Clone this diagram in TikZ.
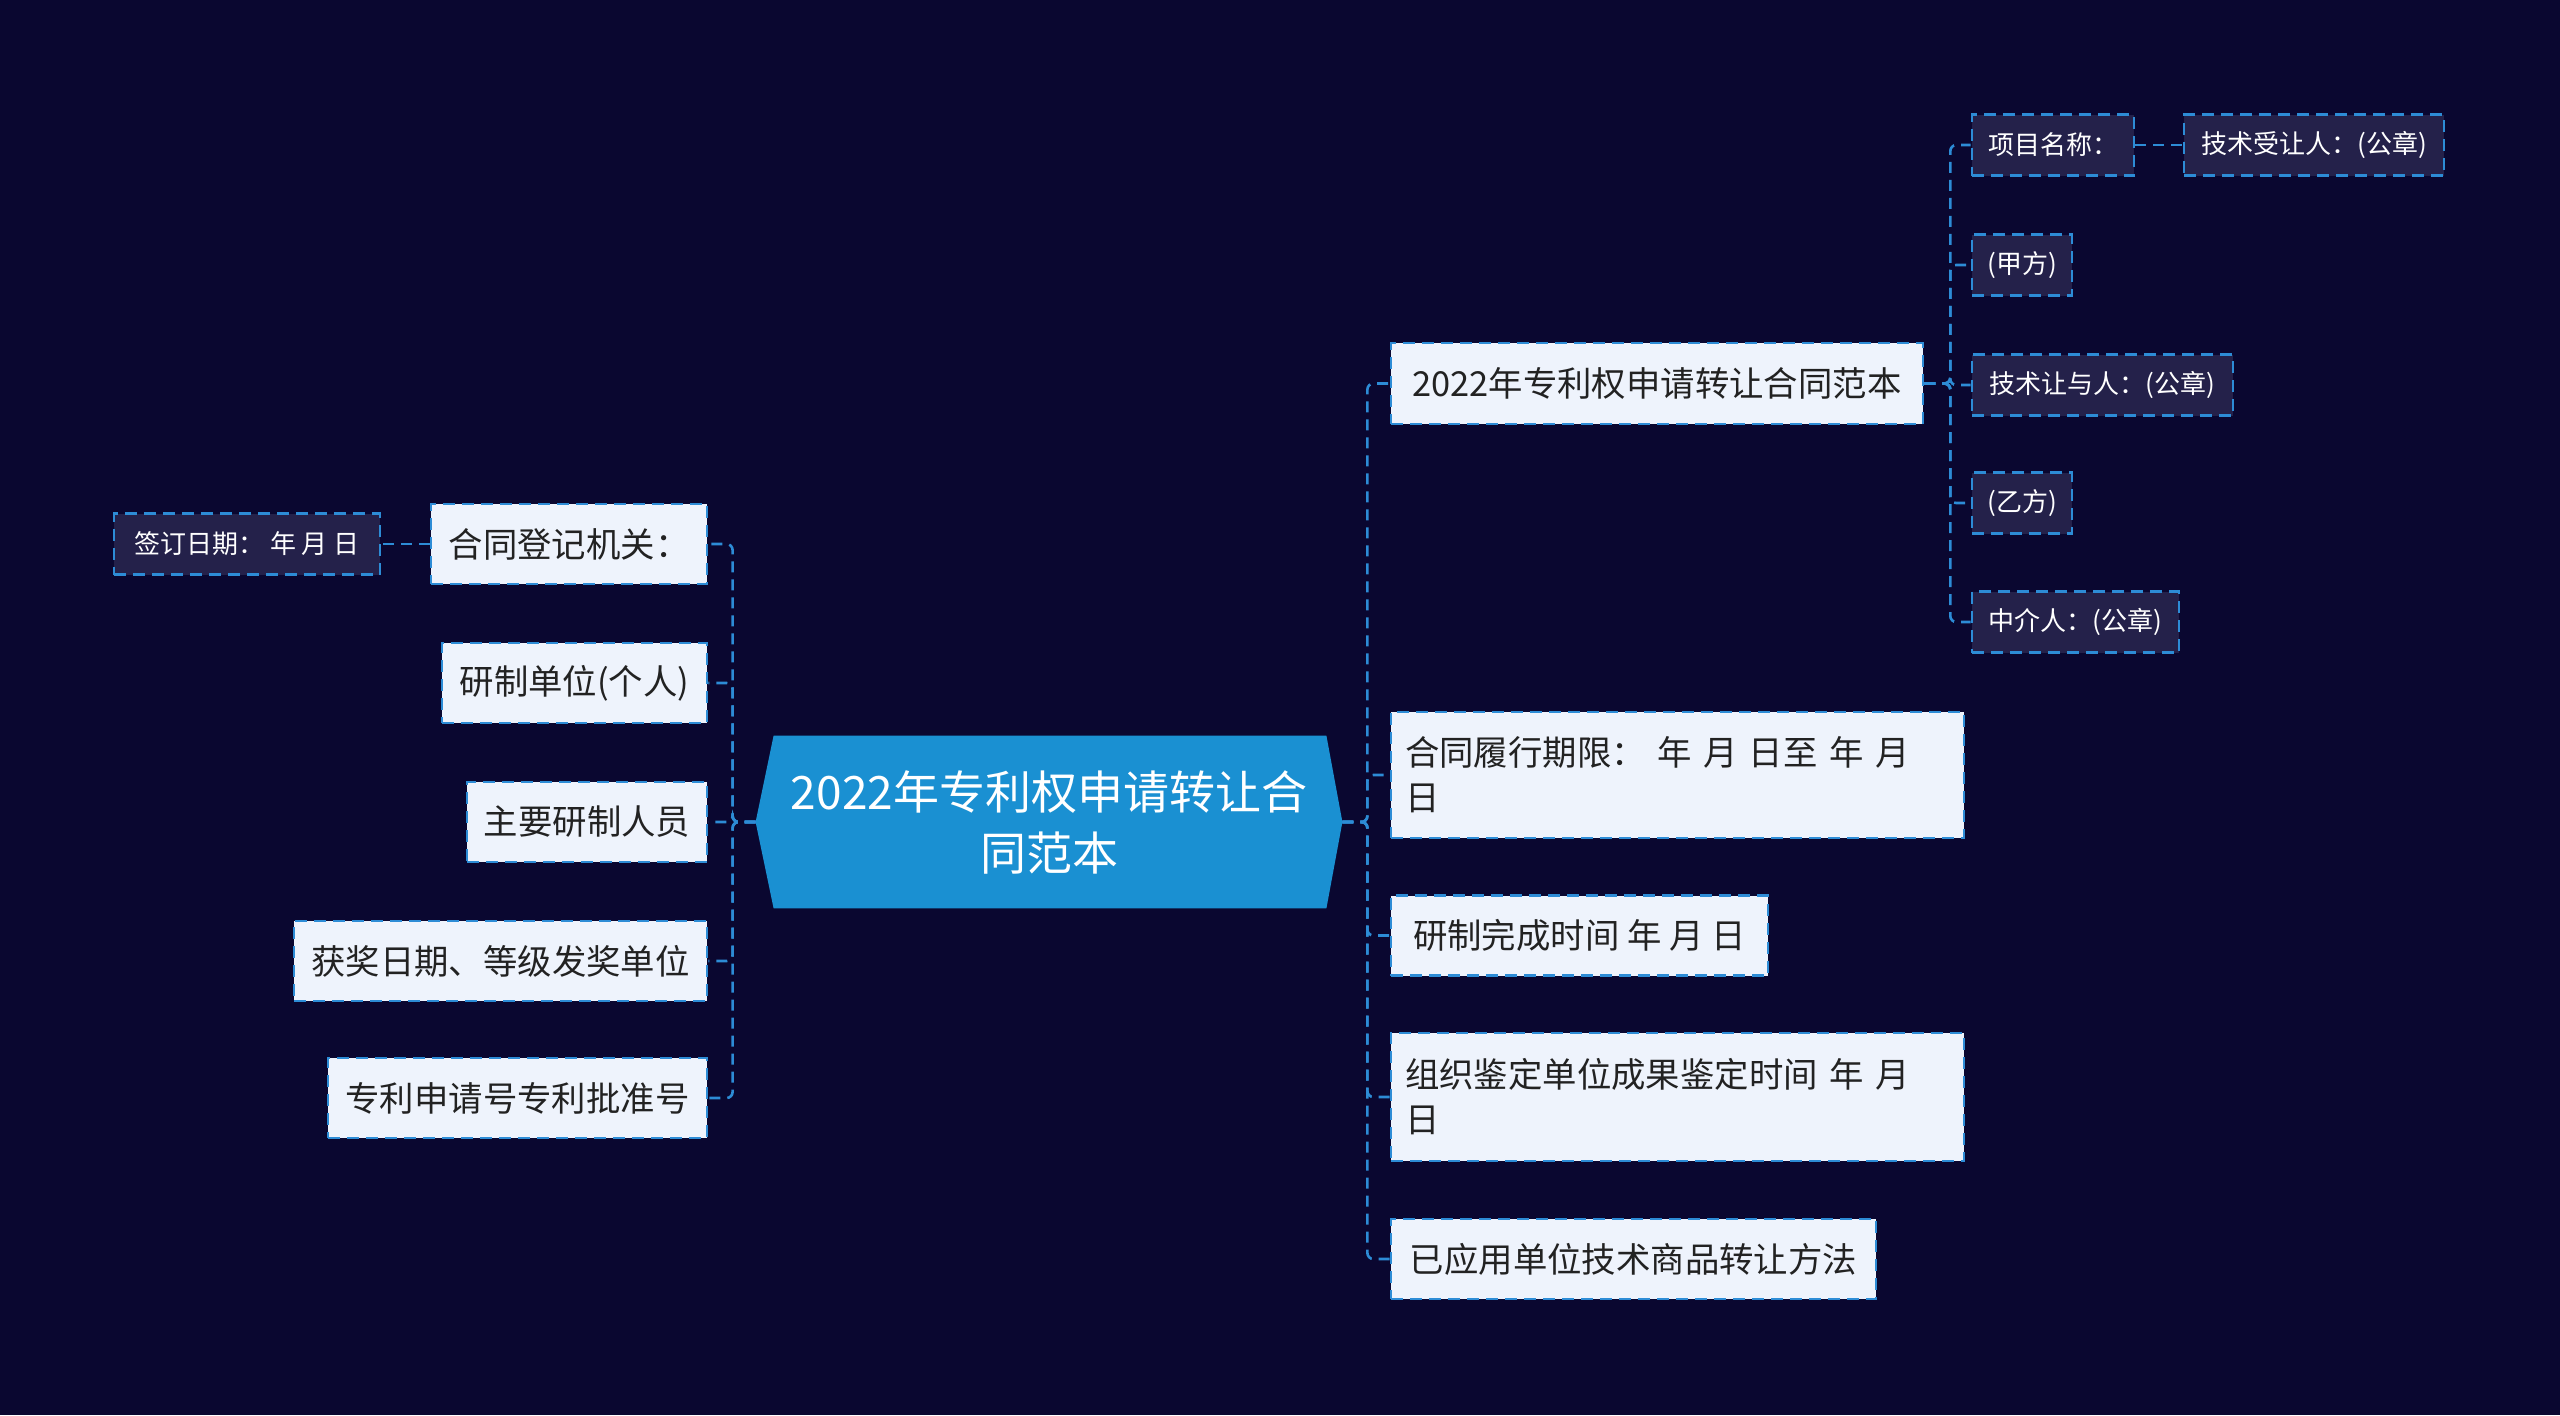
\documentclass[tikz,border=0pt]{standalone}
\usepackage{fontspec}
\setmainfont{Noto Sans CJK SC}
\usetikzlibrary{backgrounds,calc}
\definecolor{bgc}{HTML}{0A0730}
\definecolor{rootblue}{HTML}{1A90D2}
\definecolor{boxfill}{HTML}{EEF3FC}
\definecolor{edgec}{HTML}{2D8CD6}
\definecolor{darkfill}{HTML}{24214A}
\definecolor{txt}{HTML}{222222}
\begin{document}
\begin{tikzpicture}[x=0.5pt,y=-0.5pt,
  lbox/.style={draw=edgec, fill=boxfill, dash pattern=on 6pt off 3.5pt, line width=1.3pt,
    text=txt, font=\fontsize{17.2}{22.5}\selectfont, minimum height=40pt, inner xsep=7pt, inner ysep=0pt},
  dbox/.style={draw=edgec, fill=darkfill, dash pattern=on 6pt off 3.5pt, line width=1.3pt,
    text=white, font=\fontsize{13}{16}\selectfont, minimum height=30.5pt, inner xsep=6pt, inner ysep=0pt},
  rootnode/.style={text=white, font=\fontsize{23}{30.5}\selectfont, align=center, inner sep=0pt},
  conn/.style={draw=edgec, dash pattern=on 5.5pt off 3.5pt, line width=1.3pt, rounded corners=3pt}
]
% root
\node[rootnode, minimum width=293pt, minimum height=86pt] (root) at (1049,822) {2022年专利权申请转让合\\同范本};
\begin{scope}[on background layer]
  \fill[bgc] (0,0) rectangle (2560,1415);
  \fill[rootblue] (root.west) -- ($(root.north west)+(18,0)$) -- ($(root.north east)+(-16,0)$)
    -- (root.east) -- ($(root.south east)+(-16,0)$) -- ($(root.south west)+(18,0)$) -- cycle;
\end{scope}

% left
\node[lbox, minimum width=138pt] (L1) at (569,544) {合同登记机关：};
\node[lbox, minimum width=132.5pt] (L2) at (574.5,683) {研制单位(个人)};
\node[lbox, minimum width=120pt] (L3) at (587,822) {主要研制人员};
\node[lbox, minimum width=206.5pt] (L4) at (500.5,961) {获奖日期、等级发奖单位};
\node[lbox, minimum width=189.5pt] (L5) at (517.5,1098) {专利申请号专利批准号};
\node[dbox, minimum width=133pt] (Lc) at (247,544) {签订日期： 年 月 日};

% right
\node[lbox, minimum width=266pt, minimum height=40.5pt] (R1) at (1657,383.5) {2022年专利权申请转让合同范本};
\node[lbox, minimum width=286.5pt, minimum height=63pt, text width=272.5pt, align=left] (R2) at (1677.5,775) {合同履行期限： 年 月 日至 年 月\\日};
\node[lbox, minimum width=188.5pt] (R3) at (1579.5,935.5) {研制完成时间 年 月 日};
\node[lbox, minimum width=286.5pt, minimum height=64pt, text width=272.5pt, align=left] (R4) at (1677.5,1097) {组织鉴定单位成果鉴定时间 年 月\\日};
\node[lbox, minimum width=242.5pt] (R5) at (1633.5,1259) {已应用单位技术商品转让方法};

% far right
\node[dbox, minimum width=81pt] (A) at (2053,145) {项目名称：};
\node[dbox, minimum width=130pt] (A2) at (2314,145) {技术受让人：(公章)};
\node[dbox, minimum width=50pt] (B) at (2022,265) {(甲方)};
\node[dbox, minimum width=130.5pt] (C) at (2102.5,385) {技术让与人：(公章)};
\node[dbox, minimum width=50pt] (D) at (2022,503) {(乙方)};
\node[dbox, minimum width=103.5pt] (E) at (2075.5,622) {中介人：(公章)};

% connectors
\foreach \n in {L1,L2,L3,L4,L5}
  \draw[conn] (root.west) -- ++(-23,0) |- (\n.east);
\foreach \n in {R1,R2,R3,R4,R5}
  \draw[conn] (root.east) -- ++(25,0) |- (\n.west);
\foreach \n in {A,B,C,D,E}
  \draw[conn] (R1.east) -- ++(26,0) |- (\n.west);
\draw[conn] (A.east) -- (A2.west);
\draw[conn] (L1.west) -- (Lc.east);
\end{tikzpicture}
\end{document}
